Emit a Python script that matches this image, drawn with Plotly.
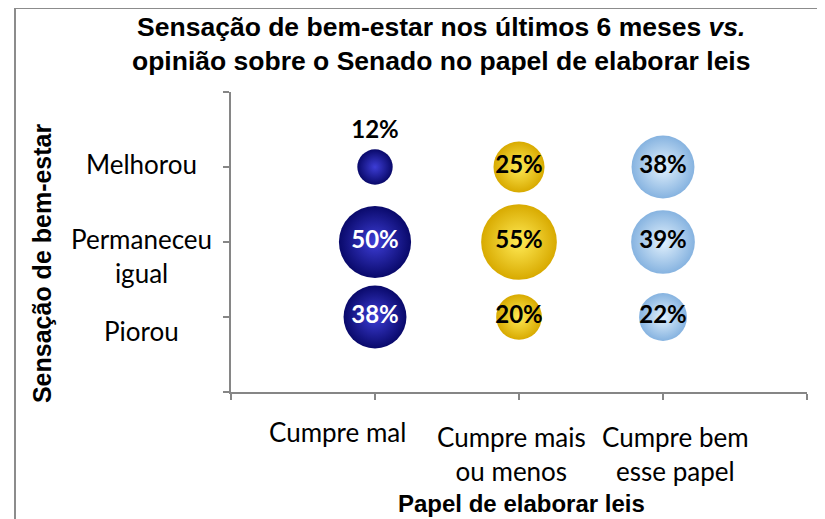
import plotly.graph_objects as go

# categorias
papel = ["Cumpre mal", "Cumpre mais<br>ou menos", "Cumpre bem<br>esse papel"]
sensacao = ["Piorou", "Permaneceu<br>igual", "Melhorou"]

# % por grupo (Piorou, Permaneceu igual, Melhorou)
cumpre_mal = [38, 50, 12]
cumpre_mais_ou_menos = [20, 55, 25]
cumpre_bem = [22, 39, 38]

series = [cumpre_mal, cumpre_mais_ou_menos, cumpre_bem]
cores = [("#09096a", "#3d3dd6", "white"),
         ("#d8aa00", "#ffea55", "black"),
         ("#86b3e0", "#e2f1fd", "black")]

fig = go.Figure()
for i, vals in enumerate(series):
    borda, centro, cor_txt = cores[i]
    fig.add_trace(go.Scatter(
        x=[i + 1] * len(vals),
        y=list(range(1, len(vals) + 1)),
        mode="markers+text",
        text=[f"{v}%" for v in vals],
        textposition=["top center" if v < 15 else "middle center" for v in vals],
        textfont=dict(family="Lato", size=24, weight="bold",
                      color=[cor_txt if v >= 15 else "black" for v in vals]),
        marker=dict(size=vals, sizemode="area", sizeref=0.0192, color=borda, opacity=1,
                    gradient=dict(type="radial", color=centro), line=dict(width=0)),
        cliponaxis=False,
        hoverinfo="skip",
    ))

eixo = dict(range=[0, 4], tickvals=[0, 1, 2, 3, 4], showticklabels=False,
            ticks="outside", ticklen=6, tickcolor="#868686", tickwidth=1.5,
            showline=True, linecolor="#868686", linewidth=1.5,
            showgrid=False, zeroline=False, fixedrange=True)
fig.update_xaxes(**eixo)
fig.update_yaxes(**eixo)

# rótulos dos eixos (posição ajustada como no Excel)
fonte_rot = dict(family="Lato", size=26, color="black")
desloc_x = [(-38, 5), (-8, 0), (12, 0)]
for i, t in enumerate(papel):
    dx, dy = desloc_x[i]
    fig.add_annotation(x=i + 1, xshift=dx, xanchor="center",
                       y=-0.09, yref="paper", yshift=dy, yanchor="top",
                       text=t, showarrow=False, font=fonte_rot)
desloc_y = [-14, -14, 3]
for i, t in enumerate(sensacao):
    fig.add_annotation(x=-0.156, xref="paper", xanchor="center",
                       y=i + 1, yshift=desloc_y[i], yanchor="middle",
                       text=t, showarrow=False, font=fonte_rot)

fig.add_annotation(x=0.365, xref="paper", xanchor="center", y=1.16, yref="paper", yanchor="middle",
                   text="<b>Sensação de bem-estar nos últimos 6 meses <i>vs.</i></b><br>"
                        "<b>opinião sobre o Senado no papel de elaborar leis</b>",
                   showarrow=False, font=dict(family="Liberation Sans", size=26.5, color="black"))
bold = dict(family="Liberation Sans", size=24, color="black")
fig.add_annotation(x=0.5035, xref="paper", xanchor="center", y=-0.37, yref="paper", yanchor="middle",
                   text="<b>Papel de elaborar leis</b>", showarrow=False, font=bold)
fig.add_annotation(x=-0.328, xref="paper", xanchor="center", y=0.43, yref="paper", yanchor="middle",
                   textangle=-90, text="<b>Sensação de bem-estar</b>", showarrow=False,
                   font=dict(family="Liberation Sans", size=25, color="black"))

# moldura
fig.add_shape(type="rect", xref="paper", yref="paper", x0=-0.375, x1=1.2, y0=-0.6, y1=1.28,
              line=dict(color="#8c8c8c", width=2), layer="below")

# a página tem margem de 8px no body
fig.update_layout(width=817, height=511, margin=dict(l=223, r=18, t=84, b=127),
                  showlegend=False, plot_bgcolor="white", paper_bgcolor="white")

fig.write_html("out.html")
